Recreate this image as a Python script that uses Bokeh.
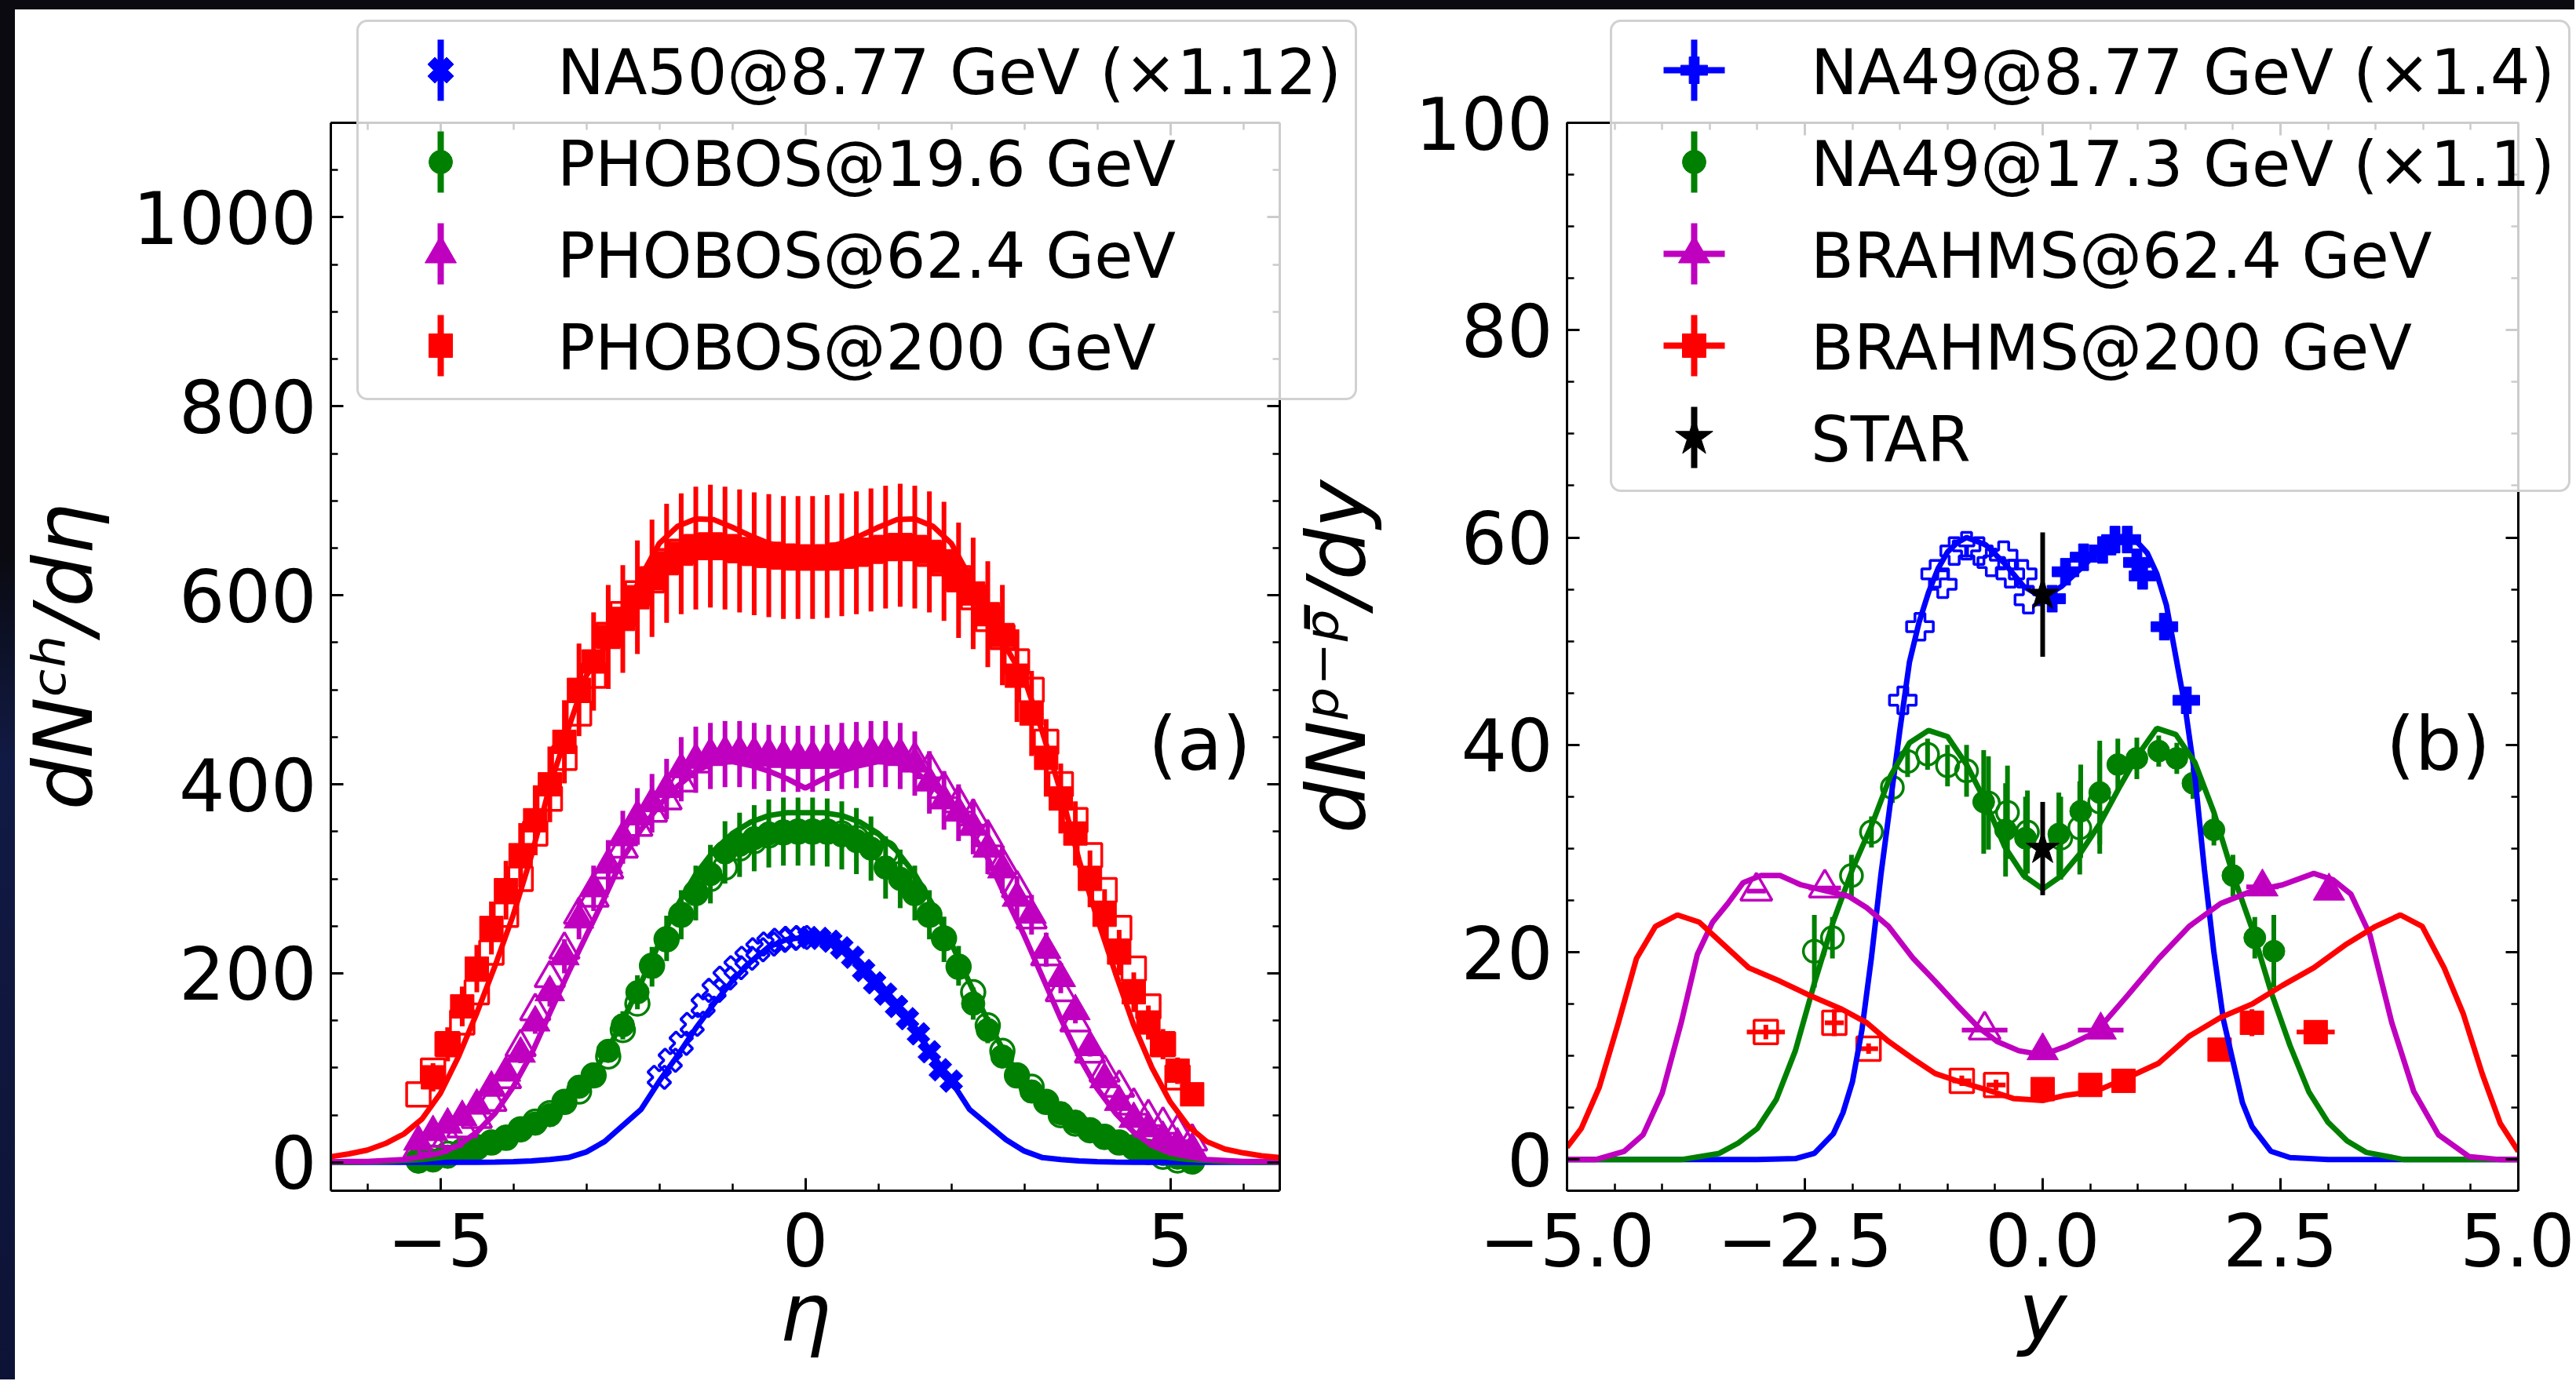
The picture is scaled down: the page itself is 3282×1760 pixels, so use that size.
import math
from bokeh.plotting import figure
from bokeh.models import (ColumnDataSource, Range1d, LinearAxis, SingleIntervalTicker,
                          CustomJSTickFormatter, Legend, LegendItem, Label, Div)
from bokeh.layouts import row
from bokeh.embed import file_html
from bokeh.resources import INLINE

FONT = "DejaVu Sans"
BLUE, GREEN, MAGENTA, RED, BLACK = "#0000ff", "#008000", "#bf00bf", "#ff0000", "#000000"

# ====================== panel (a): dN_ch/d(eta) ======================
ETA = [-5.3, -5.1, -4.9, -4.7, -4.5, -4.3, -4.1, -3.9, -3.7, -3.5, -3.3, -3.1, -2.9, -2.7,
       -2.5, -2.3, -2.1, -1.9, -1.7, -1.5, -1.3, -1.1, -0.9, -0.7, -0.5, -0.3, -0.1,
       0.1, 0.3, 0.5, 0.7, 0.9, 1.1, 1.3, 1.5, 1.7, 1.9, 2.1, 2.3, 2.5, 2.7, 2.9, 3.1,
       3.3, 3.5, 3.7, 3.9, 4.1, 4.3, 4.5, 4.7, 4.9, 5.1, 5.3]

PHOBOS19 = [1, 2, 6, 11, 16, 21, 27, 34, 41, 50, 64, 80, 92, 118, 145, 180, 207, 237, 262, 285,
            305, 328, 336, 343, 348, 350, 350,
            350, 349, 346, 340, 332, 312, 300, 285, 262, 236, 208, 168, 140, 112, 92, 75, 64,
            52, 43, 35, 26, 21, 16, 12, 9, 5, 2]
PHOBOS19_ERR = [1, 1, 1, 1, 2, 2, 3, 3, 4, 5, 6, 8, 9, 12, 15, 18, 21, 24, 26, 29, 31, 33, 34,
                35, 36, 36, 36,
                36, 36, 36, 35, 34, 33, 31, 29, 26, 24, 21, 17, 14, 11, 9, 8, 6, 5, 4, 4, 3,
                2, 2, 1, 1, 1, 1]

PHOBOS62 = [22, 32, 40, 48, 60, 79, 95, 115, 148, 180, 218, 257, 290, 315, 344, 366, 380, 395,
            416, 426, 430, 432, 432, 430, 428, 427, 427,
            427, 428, 430, 431, 432, 432, 430, 422, 402, 383, 370, 355, 332, 310, 280, 262,
            225, 195, 160, 122, 88, 64, 46, 36, 26, 19, 14]
PHOBOS62_ERR = [3, 4, 4, 5, 6, 7, 8, 10, 12, 15, 18, 21, 24, 26, 28, 30, 31, 32, 34, 35, 35,
                35, 35, 35, 35, 35, 35,
                35, 35, 35, 35, 35, 35, 35, 34, 33, 31, 30, 29, 27, 25, 23, 21, 18, 16, 13,
                10, 7, 5, 4, 3, 3, 3, 3]

ETA200 = ETA[1:]
PHOBOS200 = [90, 125, 165, 205, 248, 288, 325, 362, 400, 445, 500, 530, 556, 575, 598, 618,
             634, 644, 650, 652, 650, 647, 644, 642, 640, 640,
             640, 641, 643, 645, 648, 651, 653, 651, 646, 636, 616, 602, 580, 558, 515, 475,
             428, 385, 348, 300, 262, 222, 180, 148, 125, 97, 72]
PHOBOS200_ERR = [15, 18, 21, 25, 28, 31, 34, 37, 40, 44, 49, 52, 55, 57, 60, 62, 63, 64, 65,
                 65, 65, 65, 65, 65, 65, 65,
                 65, 65, 65, 65, 65, 65, 65, 65, 64, 63, 61, 59, 56, 53, 49, 45, 41, 37, 34,
                 30, 27, 24, 21, 18, 16, 14, 12]

NA50_ETA = [0.05, 0.2, 0.35, 0.5, 0.65, 0.8, 0.95, 1.1, 1.25, 1.4, 1.55, 1.7, 1.85, 2.0]
NA50 = [238, 237, 234, 227, 217, 203, 190, 178, 165, 152, 136, 117, 98, 86]
NA50_ERR = [4, 4, 4, 4, 4, 4, 4, 4, 4, 4, 4, 4, 4, 4]
NA50_OPEN_ETA = [-2.0, -1.85, -1.7, -1.55, -1.4, -1.25, -1.1, -0.95, -0.8, -0.65, -0.5, -0.35,
                 -0.2, -0.05]
NA50_OPEN = [90, 108, 126, 146, 166, 182, 195, 206, 216, 225, 231, 235, 237, 238]

ETA_MODEL = [-6.5, -6.25, -6.0, -5.75, -5.5, -5.25, -5.0, -4.75, -4.5, -4.25, -4.0, -3.75,
             -3.5, -3.25, -3.0, -2.75, -2.5, -2.25, -2.0, -1.75, -1.5, -1.25, -1.0, -0.75,
             -0.5, -0.25, 0.0, 0.25, 0.5, 0.75, 1.0, 1.25, 1.5, 1.75, 2.0, 2.25, 2.5, 2.75,
             3.0, 3.25, 3.5, 3.75, 4.0, 4.25, 4.5, 4.75, 5.0, 5.25, 5.5, 5.75, 6.0, 6.25, 6.5]
MODEL_NA50 = [0, 0, 0, 0, 0, 0, 0, 0, 0.2, 0.4, 0.8, 1.5, 3, 5, 11, 22, 39, 56, 86, 113, 142,
              168, 192, 212, 228, 236, 238,
              236, 228, 212, 192, 168, 142, 113, 86, 56, 40, 24, 12, 5, 3, 1.5, 0.8, 0.4,
              0.2, 0, 0, 0, 0, 0, 0, 0, 0]
MODEL_19 = [0, 0, 0.5, 1, 2, 3, 5, 8, 12, 17, 24, 33, 46, 63, 85, 113, 150, 190, 232, 272,
            305, 330, 348, 360, 367, 370, 370,
            370, 367, 360, 348, 330, 305, 272, 232, 190, 150, 113, 85, 63, 46, 33, 24, 17,
            12, 8, 5, 3, 2, 1, 0.5, 0, 0]
MODEL_62 = [0.5, 1, 1, 2, 3, 6, 10, 18, 32, 52, 80, 115, 158, 200, 240, 280, 322, 352, 378,
            398, 414, 423, 424, 420, 414, 406, 396,
            406, 414, 420, 424, 423, 414, 398, 378, 352, 322, 280, 240, 196, 152, 112, 78,
            52, 32, 18, 10, 6, 3, 2, 1, 1, 0.5]
MODEL_200 = [6, 9, 13, 20, 30, 46, 73, 112, 158, 208, 262, 325, 398, 458, 515, 545, 578, 620,
             655, 673, 681, 680, 672, 663, 655, 650, 649,
             650, 655, 663, 672, 680, 681, 673, 655, 620, 578, 545, 512, 455, 392, 320, 258,
             200, 145, 100, 64, 38, 22, 14, 10, 7, 5]

# ====================== panel (b): net-proton dN/dy ======================
NA49_87_Y = [0.10, 0.24, 0.43, 0.63, 0.76, 0.89, 0.99, 1.05, 1.28, 1.51]
NA49_87 = [54.1, 56.7, 58.1, 58.8, 59.8, 59.8, 57.6, 56.3, 51.4, 44.3]
NA49_87_XERR = [0.05, 0.05, 0.05, 0.05, 0.05, 0.05, 0.05, 0.05, 0.05, 0.05]
NA49_87_YERR = [1.0, 1.0, 1.0, 1.0, 1.0, 1.0, 1.0, 1.0, 1.0, 1.0]
NA49_87_OPEN_Y = [-1.47, -1.29, -1.13, -1.05, -0.93, -0.80, -0.67, -0.54, -0.41, -0.34,
                  -0.21, -0.15]
NA49_87_OPEN = [44.3, 51.4, 56.5, 55.5, 58.7, 59.2, 58.7, 57.6, 58.3, 56.5, 56.5, 54.0]

NA49_173_Y = [-0.62, -0.39, -0.18, 0.17, 0.40, 0.60, 0.79, 0.99, 1.22, 1.41, 1.58, 1.80, 2.00,
              2.23, 2.43]
NA49_173 = [34.5, 31.8, 31.0, 31.4, 33.6, 35.4, 38.1, 38.7, 39.4, 38.7, 36.3, 31.8, 27.4, 21.4,
            20.1]
NA49_173_ERR = [5.0, 4.5, 4.0, 4.0, 4.5, 5.0, 2.5, 2.0, 1.5, 1.5, 1.5, 1.5, 2.0, 2.0, 3.5]
NA49_173_OPEN_Y = [-2.40, -2.21, -2.01, -1.80, -1.58, -1.42, -1.21, -1.00, -0.80, -0.57,
                   -0.37, -0.16, 0.19, 0.39, 0.60]
NA49_173_OPEN = [20.1, 21.4, 27.4, 31.6, 35.9, 38.4, 39.1, 38.0, 37.5, 34.4, 33.5, 31.6, 31.0,
                 32.0, 34.5]
NA49_173_OPEN_ERR = [3.5, 2.0, 2.0, 1.5, 1.5, 1.5, 1.5, 2.0, 2.5, 4.5, 4.5, 4.0, 4.0, 4.5, 5.0]

BRAHMS62_Y = [0.0, 0.61, 2.31, 3.01]
BRAHMS62 = [10.5, 12.5, 26.3, 25.9]
BRAHMS62_XERR = [0.10, 0.24, 0.17, 0.10]
BRAHMS62_OPEN_Y = [-0.61, -2.29, -3.01]
BRAHMS62_OPEN = [12.5, 26.2, 25.9]
BRAHMS62_OPEN_XERR = [0.24, 0.17, 0.10]

BRAHMS200_Y = [0.0, 0.5, 0.85, 1.86, 2.2, 2.87]
BRAHMS200 = [6.8, 7.2, 7.6, 10.6, 13.2, 12.3]
BRAHMS200_XERR = [0.05, 0.10, 0.10, 0.10, 0.10, 0.20]
BRAHMS200_YERR = [0.5, 0.5, 0.5, 0.5, 1.3, 0.7]
BRAHMS200_OPEN_Y = [-0.49, -0.85, -1.83, -2.19, -2.91]
BRAHMS200_OPEN = [7.2, 7.6, 10.7, 13.2, 12.3]
BRAHMS200_OPEN_XERR = [0.10, 0.10, 0.10, 0.10, 0.20]
BRAHMS200_OPEN_YERR = [0.5, 0.5, 0.5, 1.3, 0.7]

STAR_Y = [0.0, 0.0]
STAR = [54.5, 30.0]
STAR_ERR = [6.0, 4.5]

MODEL_B_BLUE_Y = [-5.0, -3.0, -2.6, -2.4, -2.2, -2.1, -2.0, -1.9, -1.8, -1.7, -1.6, -1.5, -1.4,
                  -1.3, -1.2, -1.1, -1.0, -0.9, -0.8, -0.6, -0.4, -0.2, 0.0, 0.2, 0.4, 0.6,
                  0.8, 0.9, 1.0, 1.1, 1.2, 1.3, 1.4, 1.5, 1.6, 1.7, 1.8, 1.9, 2.0, 2.1, 2.2,
                  2.4, 2.6, 3.0, 5.0]
MODEL_B_BLUE = [0, 0, 0.1, 0.6, 2.5, 4.5, 7.5, 12.5, 19.5, 27.5, 34.5, 41.5, 48.0, 51.8, 54.7,
                57.0, 58.6, 59.5, 60.0, 59.3, 57.5, 55.3, 54.2, 55.3, 57.0, 58.8, 60.0, 60.2,
                59.5, 58.5, 56.5, 53.5, 48.5, 43.5, 37.0, 28.0, 20.0, 13.5, 9.5, 5.5, 3.2,
                0.8, 0.2, 0, 0]
MODEL_B_GREEN_Y = [-5.0, -3.8, -3.4, -3.2, -3.0, -2.8, -2.6, -2.4, -2.2, -2.0, -1.8, -1.6,
                   -1.4, -1.2, -1.0, -0.8, -0.6, -0.4, -0.2, 0.0, 0.2, 0.4, 0.6, 0.8, 1.0,
                   1.2, 1.4, 1.6, 1.8, 2.0, 2.2, 2.4, 2.6, 2.8, 3.0, 3.2, 3.4, 3.8, 5.0]
MODEL_B_GREEN = [0, 0, 0.6, 1.6, 3.0, 5.8, 10.5, 17.0, 23.0, 28.0, 32.2, 37.0, 40.2, 41.4,
                 40.8, 38.1, 34.5, 30.2, 27.4, 26.1, 27.4, 29.6, 32.4, 35.8, 39.0, 41.6, 41.0,
                 38.3, 33.5, 27.5, 22.3, 16.2, 11.0, 6.5, 3.6, 1.8, 0.7, 0, 0]
MODEL_B_MAGENTA_Y = [-5.0, -4.7, -4.4, -4.2, -4.0, -3.8, -3.63, -3.47, -3.31, -3.15, -2.96,
                     -2.76, -2.54, -2.27, -2.04, -1.85, -1.62, -1.36, -1.13, -0.90, -0.67,
                     -0.48, -0.25, 0.0, 0.24, 0.56, 0.89, 1.22, 1.54, 1.87, 2.20, 2.52, 2.85,
                     3.05, 3.24, 3.44, 3.67, 3.90, 4.16, 4.48, 4.81, 5.0]
MODEL_B_MAGENTA = [0, 0, 0.8, 2.4, 6.4, 13.2, 19.8, 22.9, 24.7, 26.7, 27.4, 27.4, 26.5, 25.9,
                   25.4, 24.3, 22.5, 19.4, 17.2, 14.9, 12.7, 11.4, 10.5, 10.1, 10.9, 12.3,
                   15.8, 19.4, 22.5, 24.7, 25.9, 26.5, 27.6, 27.0, 25.6, 21.7, 13.2, 6.6, 2.4,
                   0.3, 0, 0]
MODEL_B_RED_Y = [-5.0, -4.85, -4.66, -4.46, -4.27, -4.07, -3.84, -3.61, -3.35, -3.09, -2.76,
                 -2.44, -2.11, -1.85, -1.62, -1.36, -1.13, -0.87, -0.54, -0.31, 0.0, 0.24,
                 0.56, 0.89, 1.22, 1.54, 1.87, 2.20, 2.52, 2.85, 3.18, 3.50, 3.76, 3.99, 4.22,
                 4.42, 4.62, 4.81, 5.0]
MODEL_B_RED = [1.2, 3.0, 7.0, 13.2, 19.4, 22.5, 23.6, 22.9, 20.7, 18.5, 17.2, 15.8, 14.5, 13.2,
               11.4, 9.7, 8.3, 7.5, 6.6, 5.9, 5.7, 6.2, 6.6, 7.9, 9.3, 11.9, 13.7, 15.0, 16.8,
               18.5, 20.7, 22.5, 23.6, 22.5, 18.5, 14.1, 8.3, 3.5, 0.8]

LEGEND_A = ["NA50@8.77 GeV (\u00d71.12)", "PHOBOS@19.6 GeV", "PHOBOS@62.4 GeV", "PHOBOS@200 GeV"]
LEGEND_B = ["NA49@8.77 GeV (\u00d71.4)", "NA49@17.3 GeV (\u00d71.1)", "BRAHMS@62.4 GeV",
            "BRAHMS@200 GeV", "STAR"]

# ====================== layout (page pixels) ======================
PAGE_W, PAGE_H = 3280, 1758
SPLIT = 1636
FR1 = (421, 1630, 156, 1517)   # frame left, right, top, bottom
FR2 = (1996, 3208, 156, 1517)
XR1, YR1 = (-6.5, 6.5), (-30, 1100)
XR2, YR2 = (-5.0, 5.0), (-3, 100)

TICK_FS = "92px"
LABEL_FS = "104px"
LEG_FS = "80px"
PAD, GW, ROW, SP, STANDOFF = 17, 180, 94, 23, 56
INSET = 4
BAR = 78
EB_W = 6
LINE_W = 7


def page_to_data(frame, xr, yr, px, py):
    l, r, t, b = frame
    x = xr[0] + (px - l) / (r - l) * (xr[1] - xr[0])
    y = yr[0] + (b - py) / (b - t) * (yr[1] - yr[0])
    return x, y


def make_fig(width, frame, canvas_left, xr, yr):
    l, r, t, b = frame
    p = figure(width=width, height=PAGE_H, x_range=Range1d(*xr), y_range=Range1d(*yr),
               output_backend="svg", toolbar_location=None, title=None,
               min_border_left=l - canvas_left, min_border_right=canvas_left + width - r,
               min_border_top=t, min_border_bottom=PAGE_H - b)
    p.xgrid.visible = False
    p.ygrid.visible = False
    p.outline_line_color = None
    p.background_fill_color = "white"
    p.border_fill_color = "white"
    return p


def style_axis(ax, interval, minor, fmt_code, label=None):
    ax.ticker = SingleIntervalTicker(interval=interval, num_minor_ticks=minor)
    ax.formatter = CustomJSTickFormatter(code=fmt_code)
    ax.axis_line_width = 3
    ax.axis_line_color = BLACK
    ax.major_tick_in = 16
    ax.major_tick_out = 0
    ax.minor_tick_in = 9
    ax.minor_tick_out = 0
    ax.major_tick_line_width = 3
    ax.minor_tick_line_width = 2.5
    ax.major_tick_line_color = BLACK
    ax.minor_tick_line_color = BLACK
    ax.major_label_text_font = FONT
    ax.major_label_text_font_size = TICK_FS
    ax.major_label_text_color = BLACK
    ax.axis_label = label
    ax.axis_label_text_font = FONT
    ax.axis_label_text_font_size = LABEL_FS
    ax.axis_label_text_font_style = "italic"
    ax.axis_label_text_color = BLACK


def add_frame_axes(p, xint, xminor, yint, yminor):
    top = LinearAxis()
    style_axis(top, xint, xminor, "return '';")
    top.major_label_standoff = 0
    p.add_layout(top, "above")
    right = LinearAxis()
    style_axis(right, yint, yminor, "return '';")
    right.major_label_standoff = 0
    p.add_layout(right, "right")


def errbars(p, x, y, err, color, horizontal=False, width=EB_W):
    if horizontal:
        d = dict(x0=[a - e for a, e in zip(x, err)], x1=[a + e for a, e in zip(x, err)],
                 y0=list(y), y1=list(y))
    else:
        d = dict(x0=list(x), x1=list(x), y0=[a - e for a, e in zip(y, err)],
                 y1=[a + e for a, e in zip(y, err)])
    p.segment(x0="x0", y0="y0", x1="x1", y1="y1", source=ColumnDataSource(d),
              line_color=color, line_width=width)


def filled(p, x, y, marker, color, size, angle=0.0):
    return p.scatter(x=list(x), y=list(y), marker=marker, size=size, angle=angle,
                     fill_color=color, line_color=color, line_width=1)


def hollow(p, x, y, marker, color, size, angle=0.0):
    return p.scatter(x=list(x), y=list(y), marker=marker, size=size, angle=angle,
                     fill_color=None, line_color=color, line_width=3.5)


def overlay_fig(box_left, box_top, width, height, z):
    f = figure(width=width, height=height, x_range=Range1d(0, width), y_range=Range1d(height, 0),
               x_axis_type=None, y_axis_type=None, output_backend="svg", toolbar_location=None,
               title=None, min_border=0, min_border_left=0, min_border_right=0,
               min_border_top=0, min_border_bottom=0, margin=0,
               styles={"position": "absolute", "left": f"{box_left - INSET}px",
                       "top": f"{box_top - INSET}px", "z-index": str(z)})
    f.outline_line_color = None
    f.background_fill_alpha = 0
    f.border_fill_alpha = 0
    return f


def legend_overlay(box_left, box_top, width, labels, styles):
    """The original legends stick out above the axes frame, which a legend inside a Bokeh
    figure cannot do; each legend therefore lives in a transparent figure laid over the
    panels, and a second transparent figure on top draws the legend keys (marker with its
    error bars)."""
    n = len(labels)
    height = 2 * INSET + 2 * PAD + n * ROW + (n - 1) * SP + 6
    f = overlay_fig(box_left, box_top, width, height, 10)
    k = overlay_fig(box_left, box_top, width, height, 11)
    cx = INSET + PAD + GW / 2
    rends, bx0, by0, bx1, by1, bcol = [], [], [], [], [], []
    for i, (marker, color, angle, size, yerr, xerr) in enumerate(styles):
        cy = INSET + PAD + i * (ROW + SP) + ROW / 2
        # key placeholder for the Legend item (the visible key is drawn on the top layer)
        rends.append(f.scatter(x=[cx], y=[cy], marker=marker, size=size, fill_alpha=0,
                               line_alpha=0))
        if yerr:
            bx0.append(cx); bx1.append(cx); by0.append(cy - BAR / 2); by1.append(cy + BAR / 2)
            bcol.append(color)
        if xerr:
            bx0.append(cx - BAR / 2); bx1.append(cx + BAR / 2); by0.append(cy); by1.append(cy)
            bcol.append(color)
    leg = Legend(items=[LegendItem(label=t, renderers=[r]) for t, r in zip(labels, rends)],
                 location="top_left", orientation="vertical", margin=INSET,
                 glyph_width=GW, glyph_height=ROW, label_height=ROW, label_standoff=STANDOFF,
                 padding=PAD, spacing=SP,
                 label_text_font=FONT, label_text_font_size=LEG_FS, label_text_color=BLACK,
                 label_text_baseline="middle",
                 background_fill_color="white", background_fill_alpha=0.8,
                 border_line_color="#cccccc", border_line_width=3, border_line_alpha=0.9)
    if "border_radius" in Legend.properties():
        leg.border_radius = 14
    f.add_layout(leg)
    k.segment(x0=bx0, y0=by0, x1=bx1, y1=by1, line_color=bcol, line_width=8)
    for i, (marker, color, angle, size, yerr, xerr) in enumerate(styles):
        cy = INSET + PAD + i * (ROW + SP) + ROW / 2
        k.scatter(x=[cx], y=[cy], marker=marker, angle=angle, size=size, fill_color=color,
                  line_color=color, line_width=1)
    return f, k


MINUS_INT = "return (tick < 0 ? '\u2212' : '') + Math.abs(tick).toString();"
MINUS_1DP = "return tick.toFixed(1).replace('-', '\u2212');"

# ---------------------------- panel (a) ----------------------------
p1 = make_fig(SPLIT, FR1, 0, XR1, YR1)
style_axis(p1.xaxis[0], 5, 5, MINUS_INT, "\u03b7")
style_axis(p1.yaxis[0], 200, 4, MINUS_INT, "dN\u1d9c\u02b0/d\u03b7")
p1.xaxis[0].major_label_standoff = 28
p1.xaxis[0].axis_label_standoff = -6
p1.yaxis[0].major_label_standoff = 18
p1.yaxis[0].axis_label_standoff = 24
add_frame_axes(p1, 5, 5, 200, 4)

errbars(p1, NA50_ETA, NA50, NA50_ERR, BLUE)
filled(p1, NA50_ETA, NA50, "plus", BLUE, 30, math.pi / 4)
hollow(p1, NA50_OPEN_ETA, NA50_OPEN, "plus", BLUE, 30, math.pi / 4)

errbars(p1, ETA, PHOBOS19, PHOBOS19_ERR, GREEN)
filled(p1, ETA, PHOBOS19, "circle", GREEN, 30)
hollow(p1, [-e for e in ETA], PHOBOS19, "circle", GREEN, 30)

errbars(p1, ETA, PHOBOS62, PHOBOS62_ERR, MAGENTA)
filled(p1, ETA, PHOBOS62, "triangle", MAGENTA, 38)
hollow(p1, [-e for e in ETA], PHOBOS62, "triangle", MAGENTA, 38)

errbars(p1, ETA200, PHOBOS200, PHOBOS200_ERR, RED)
filled(p1, ETA200, PHOBOS200, "square", RED, 30)
hollow(p1, [-e for e in ETA200], PHOBOS200, "square", RED, 30)

for vals, col in ((MODEL_NA50, BLUE), (MODEL_19, GREEN), (MODEL_62, MAGENTA), (MODEL_200, RED)):
    p1.line(ETA_MODEL, vals, line_color=col, line_width=LINE_W)

ax_, ay_ = page_to_data(FR1, XR1, YR1, 1528, 948)
p1.add_layout(Label(x=ax_, y=ay_, text="(a)", text_align="center", text_baseline="middle",
                    text_font=FONT, text_font_size="94px", text_color=BLACK))

# ---------------------------- panel (b) ----------------------------
p2 = make_fig(PAGE_W - SPLIT, FR2, SPLIT, XR2, YR2)
style_axis(p2.xaxis[0], 2.5, 5, MINUS_1DP, "y")
style_axis(p2.yaxis[0], 20, 4, MINUS_INT, "dN\u1d56\u207b\u1d56\u0304/dy")
p2.xaxis[0].major_label_standoff = 28
p2.xaxis[0].axis_label_standoff = -6
p2.yaxis[0].major_label_standoff = 18
p2.yaxis[0].axis_label_standoff = 36
add_frame_axes(p2, 2.5, 5, 20, 4)

errbars(p2, NA49_87_Y, NA49_87, NA49_87_YERR, BLUE)
errbars(p2, NA49_87_Y, NA49_87, NA49_87_XERR, BLUE, horizontal=True)
filled(p2, NA49_87_Y, NA49_87, "plus", BLUE, 34)
hollow(p2, NA49_87_OPEN_Y, NA49_87_OPEN, "plus", BLUE, 34)

errbars(p2, NA49_173_Y, NA49_173, NA49_173_ERR, GREEN)
errbars(p2, NA49_173_OPEN_Y, NA49_173_OPEN, NA49_173_OPEN_ERR, GREEN)
filled(p2, NA49_173_Y, NA49_173, "circle", GREEN, 28)
hollow(p2, NA49_173_OPEN_Y, NA49_173_OPEN, "circle", GREEN, 28)

errbars(p2, BRAHMS62_Y, BRAHMS62, BRAHMS62_XERR, MAGENTA, horizontal=True)
errbars(p2, BRAHMS62_OPEN_Y, BRAHMS62_OPEN, BRAHMS62_OPEN_XERR, MAGENTA, horizontal=True)
filled(p2, BRAHMS62_Y, BRAHMS62, "triangle", MAGENTA, 40)
hollow(p2, BRAHMS62_OPEN_Y, BRAHMS62_OPEN, "triangle", MAGENTA, 40)

errbars(p2, BRAHMS200_Y, BRAHMS200, BRAHMS200_XERR, RED, horizontal=True)
errbars(p2, BRAHMS200_Y, BRAHMS200, BRAHMS200_YERR, RED)
errbars(p2, BRAHMS200_OPEN_Y, BRAHMS200_OPEN, BRAHMS200_OPEN_XERR, RED, horizontal=True)
errbars(p2, BRAHMS200_OPEN_Y, BRAHMS200_OPEN, BRAHMS200_OPEN_YERR, RED)
filled(p2, BRAHMS200_Y, BRAHMS200, "square", RED, 30)
hollow(p2, BRAHMS200_OPEN_Y, BRAHMS200_OPEN, "square", RED, 30)

for xs, vals, col in ((MODEL_B_BLUE_Y, MODEL_B_BLUE, BLUE), (MODEL_B_GREEN_Y, MODEL_B_GREEN, GREEN),
                      (MODEL_B_MAGENTA_Y, MODEL_B_MAGENTA, MAGENTA), (MODEL_B_RED_Y, MODEL_B_RED, RED)):
    p2.line(xs, vals, line_color=col, line_width=LINE_W)

errbars(p2, STAR_Y, STAR, STAR_ERR, BLACK)
filled(p2, STAR_Y, STAR, "star", BLACK, 44)

bx_, by_ = page_to_data(FR2, XR2, YR2, 3106, 948)
p2.add_layout(Label(x=bx_, y=by_, text="(b)", text_align="center", text_baseline="middle",
                    text_font=FONT, text_font_size="94px", text_color=BLACK))

# ---------------------------- legends (overlaid) ----------------------------
# (marker, colour, angle, key size, vertical bar, horizontal bar)
leg_a, keys_a = legend_overlay(454, 25, 1300, LEGEND_A,
                               [("plus", BLUE, math.pi / 4, 34, True, False),
                                ("circle", GREEN, 0.0, 30, True, False),
                                ("triangle", MAGENTA, 0.0, 40, True, False),
                                ("square", RED, 0.0, 30, True, False)])
leg_b, keys_b = legend_overlay(2051, 25, PAGE_W - 2051 + INSET, LEGEND_B,
                               [("plus", BLUE, 0.0, 34, True, True),
                                ("circle", GREEN, 0.0, 30, True, False),
                                ("triangle", MAGENTA, 0.0, 40, True, True),
                                ("square", RED, 0.0, 30, True, True),
                                ("star", BLACK, 0.0, 50, True, False)])

# dark screen border visible around the original figure
band_top = Div(text="", width=PAGE_W, height=12, margin=0,
               styles={"position": "absolute", "left": "0px", "top": "0px",
                       "background-color": "#0a0a10", "z-index": "5"})
band_left = Div(text="", width=19, height=PAGE_H, margin=0,
                styles={"position": "absolute", "left": "0px", "top": "0px", "z-index": "5",
                        "background": "linear-gradient(to bottom, #0a0a10 0%, #0a0a10 40%, "
                                      "#111a44 55%, #0d1336 100%)"})

main = row(p1, p2)

with open("out.html", "w", encoding="utf-8") as fh:
    fh.write(file_html([main, leg_a, keys_a, leg_b, keys_b, band_top, band_left], INLINE))
